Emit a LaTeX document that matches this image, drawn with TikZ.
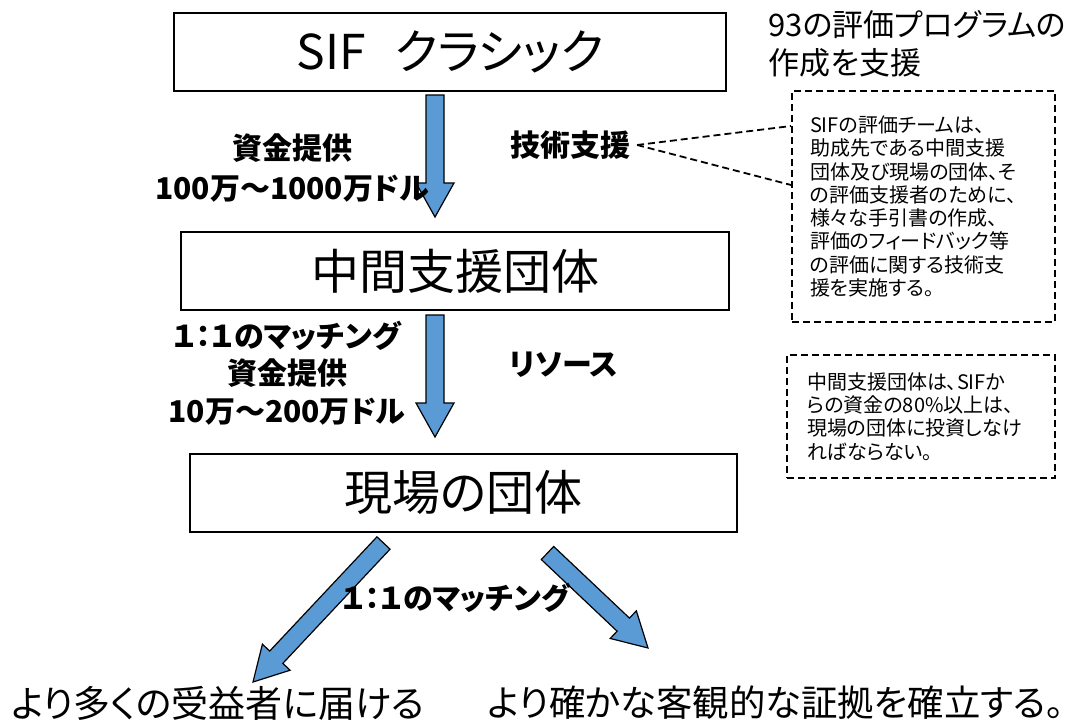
\documentclass[tikz,border=0pt]{standalone}
\usepackage{fontspec}
\setmainfont{Noto Sans CJK JP}[RawFeature=+palt]
\usetikzlibrary{calc,positioning}

\definecolor{arrowblue}{RGB}{91,155,213}

% fat arrow from #1 (tail) to #2 (tip)
\newcommand{\blockarrow}[2]{%
  \coordinate (ba-h) at ($(#2)!17pt!(#1)$);
  \filldraw[blockarrow]
    ($(#1)!4.5pt!90:(#2)$) -- ($(ba-h)!4.5pt!90:(#2)$) -- ($(ba-h)!9.5pt!90:(#2)$)
    -- (#2) -- ($(ba-h)!9.5pt!-90:(#2)$) -- ($(ba-h)!4.5pt!-90:(#2)$)
    -- ($(#1)!4.5pt!-90:(#2)$) -- cycle;
}

\begin{document}
\begin{tikzpicture}[x=0.5pt,y=-0.5pt,
	box/.style={draw,line width=1pt,minimum height=39pt,font=\fontsize{24pt}{28pt}\selectfont},
	tag/.style={align=center,font=\bfseries\fontsize{15pt}{20pt}\selectfont},
	note/.style={draw,line width=1pt,dash pattern=on 3.5pt off 2pt,align=left,inner xsep=9pt,
		font=\fontsize{10pt}{11.65pt}\selectfont},
	blockarrow/.style={draw=black,fill=arrowblue,line width=0.6pt,line join=miter}]
	\useasboundingbox (0,0) rectangle (1083,728);

	\node[box,minimum width=276pt] (sif) at (450,51.5) {SIF\hspace{0.6em}クラシック};
	\node[box,minimum width=274pt] (mid) at (455,271) {中間支援団体};
	\node[box,minimum width=273.5pt] (field) at (463.5,492.5) {現場の団体};

	\coordinate (a1s) at (435,95);
	\coordinate (a1t) at (435,217);
	\coordinate (a2s) at (435,315);
	\coordinate (a2t) at (435,437);
	\coordinate (a3s) at (383.5,543);
	\coordinate (a3t) at (253,682);
	\coordinate (a4s) at (547.5,553);
	\coordinate (a4t) at (648,648);
	\blockarrow{a1s}{a1t}
	\blockarrow{a2s}{a2t}
	\blockarrow{a3s}{a3t}
	\blockarrow{a4s}{a4t}

	\node[tag] (fund1) at (292,168) {資金提供\\100万～1000万ドル};
	\node[tag] (tech) at (570,145) {技術支援};
	\node[tag,font=\bfseries\fontsize{15pt}{18.75pt}\selectfont] (fund2) at (287,373)
		{１：１のマッチング\\資金提供\\10万～200万ドル};
	\node[tag] (res) at (564,365) {リソース};
	\node[tag] (match) at (456,598) {１：１のマッチング};

	\node[anchor=west,align=left,inner sep=0pt,font=\fontsize{15.5pt}{19pt}\selectfont] (plan)
		at (768,44) {93の評価プログラムの\\作成を支援};
	\node[note,text width=113.5pt,minimum height=115.5pt] (note1) at (923.5,206.5)
		{SIFの評価チームは、\\助成先である中間支援\\団体及び現場の団体、そ\\の評価支援者のために、\\様々な手引書の作成、\\評価のフィードバック等\\の評価に関する技術支\\援を実施する。};
	\node[note,text width=114pt,inner xsep=10pt,minimum height=61.5pt] (note2) at (921,416.5)
		{中間支援団体は、SIFか\\らの資金の80\%以上は、\\現場の団体に投資しなけ\\ればならない。};

	\draw[line width=0.9pt,dash pattern=on 3.5pt off 2pt] (tech.east) edge ([yshift=-18pt]note1.north west)
		(tech.east) edge ([yshift=-47.5pt]note1.north west);

	\node[font=\fontsize{18.5pt}{22pt}\selectfont] (reach) at (218,703) {より多くの受益者に届ける};
	\node[font=\fontsize{18.2pt}{22pt}\selectfont] (proof) at (776,703) {より確かな客観的な証拠を確立する。};
\end{tikzpicture}
\end{document}
